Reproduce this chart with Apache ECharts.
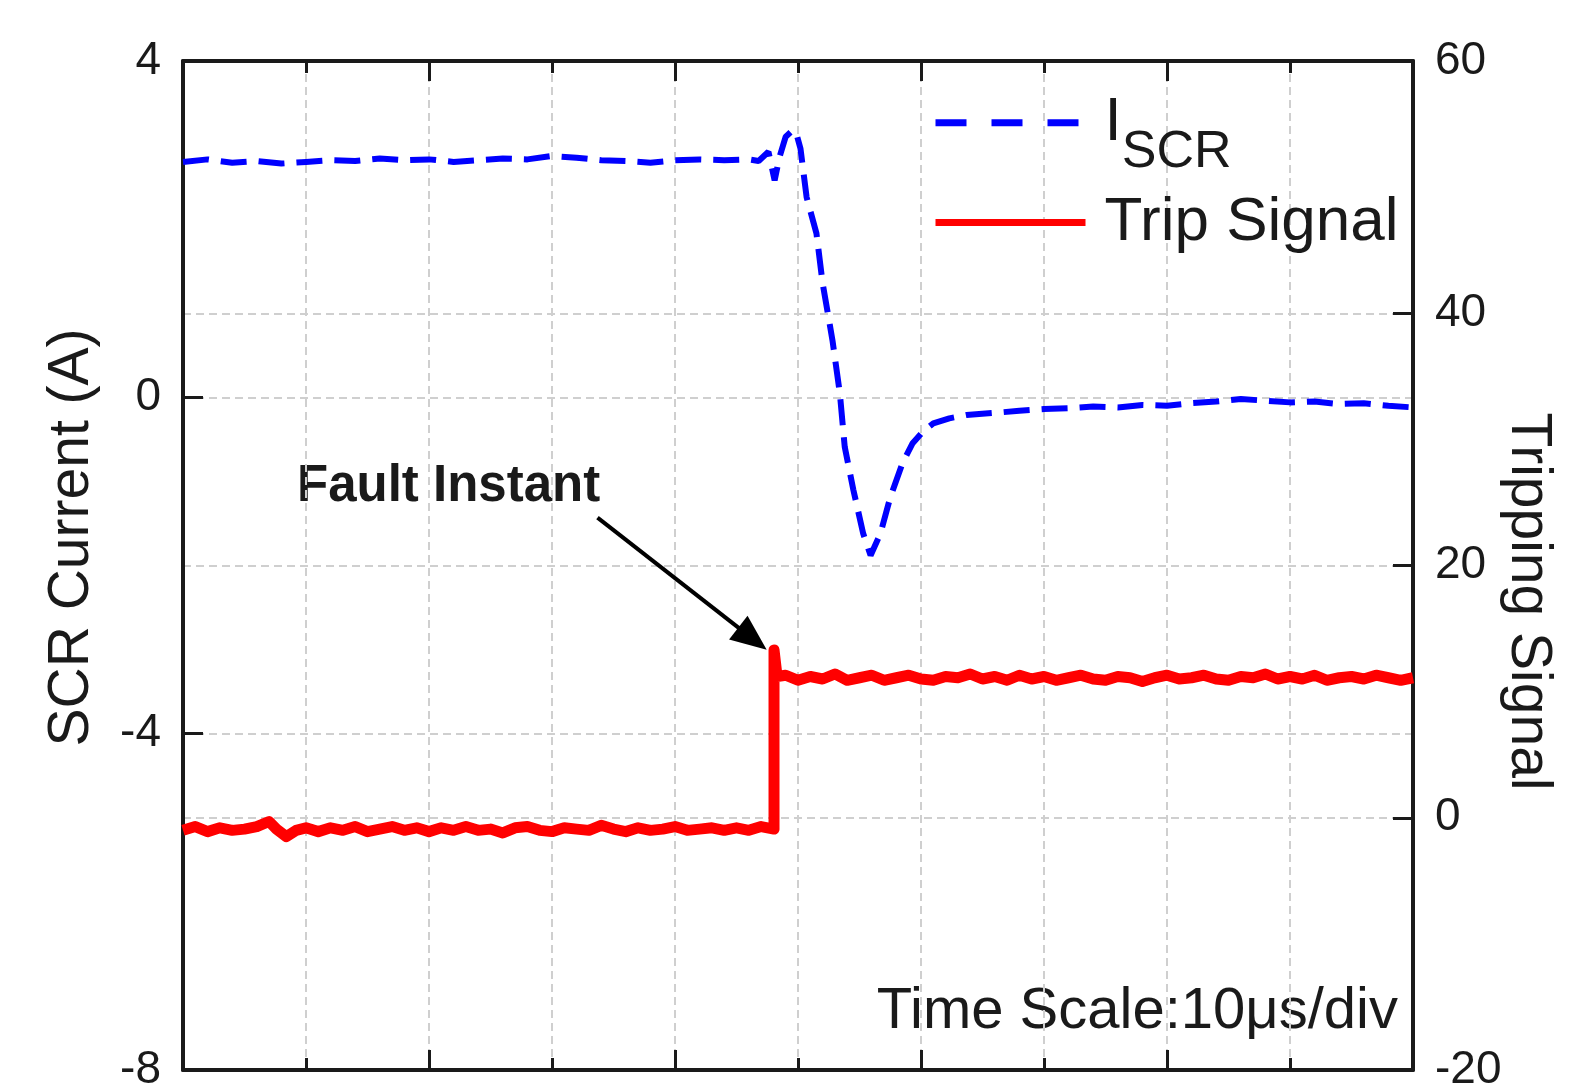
<!DOCTYPE html>
<html>
<head>
<meta charset="utf-8">
<title>SCR current / trip signal</title>
<script src="https://cdn.jsdelivr.net/npm/echarts@6/dist/echarts.min.js"></script>
<style>
  html, body { margin: 0; padding: 0; background: #fff; }
  #main { width: 1571px; height: 1086px; }
</style>
</head>
<body>
<div id="main"></div>
<script>
// time axis in us (10 us/div)
const timeRange = [0, 100, 20]          // min, max, major step (minor = 10us/div)
const currentRange = [-8, 4, 4]         // left axis, A
const tripRange = [-20, 60, 20]         // right axis

// I_SCR  [t (us), current (A)]
const iscrTrace = [
  [0, 2.80], [2, 2.83], [4, 2.79], [6, 2.81], [8, 2.78], [10, 2.80], [12, 2.82], [14, 2.81],
  [16, 2.84], [18, 2.82], [20, 2.83], [22, 2.80], [24, 2.82], [26, 2.84], [28, 2.83], [30, 2.87],
  [32, 2.85], [34, 2.82], [36, 2.81], [38, 2.79], [40, 2.82], [42, 2.83], [44, 2.82], [46, 2.83],
  [46.8, 2.81], [47.6, 2.92], [48.1, 2.58], [48.5, 2.86], [49.0, 3.10], [49.6, 3.18], [49.9, 3.12],
  [50.2, 2.96], [50.7, 2.38], [51.5, 1.95], [52.0, 1.36], [52.8, 0.68], [53.4, 0.05], [53.8, -0.59],
  [54.5, -1.10], [55.3, -1.62], [55.9, -1.88], [56.7, -1.62], [57.5, -1.19], [58.5, -0.78],
  [59.3, -0.55], [60.2, -0.40], [61.0, -0.31], [62.3, -0.25], [63.7, -0.21], [66.4, -0.18],
  [68, -0.16], [70, -0.14], [72, -0.13], [74, -0.11], [76, -0.12], [78, -0.09], [80, -0.10],
  [82, -0.07], [84, -0.05], [86, -0.02], [88, -0.04], [90, -0.06], [92, -0.05], [94, -0.08],
  [96, -0.07], [98, -0.10], [100, -0.12]
]

// trip signal  [t (us), level]
const tripTrace = [
  [0, -1.0], [1, -0.7], [2, -1.1], [3, -0.8], [4, -1.0], [5, -0.9], [6, -0.7], [7, -0.3],
  [7.6, -0.9], [8.4, -1.5], [9.2, -1.0], [10, -0.8], [11, -1.1], [12, -0.8], [13, -1.0], [14, -0.7],
  [15, -1.1], [16, -0.9], [17, -0.7], [18, -1.0], [19, -0.8], [20, -1.1], [21, -0.8], [22, -1.0],
  [23, -0.7], [24, -1.0], [25, -0.9], [26, -1.2], [27, -0.8], [28, -0.7], [29, -1.0], [30, -1.1],
  [31, -0.8], [32, -0.9], [33, -1.0], [34, -0.6], [35, -0.9], [36, -1.1], [37, -0.8], [38, -1.0],
  [39, -0.9], [40, -0.7], [41, -1.0], [42, -0.9], [43, -0.8], [44, -1.0], [45, -0.8], [46, -1.0],
  [47, -0.7], [48.05, -0.9],
  [48.05, 13.3], [48.3, 11.2], [49, 11.3], [50, 10.9], [51, 11.2], [52, 11.0], [53, 11.4], [54, 10.9],
  [55, 11.1], [56, 11.3], [57, 10.9], [58, 11.1], [59, 11.3], [60, 11.0], [61, 10.9], [62, 11.2],
  [63, 11.1], [64, 11.4], [65, 11.0], [66, 11.2], [67, 10.9], [68, 11.3], [69, 11.0], [70, 11.2],
  [71, 10.9], [72, 11.1], [73, 11.3], [74, 11.0], [75, 10.9], [76, 11.2], [77, 11.1], [78, 10.8],
  [79, 11.1], [80, 11.3], [81, 11.0], [82, 11.1], [83, 11.3], [84, 11.0], [85, 10.9], [86, 11.2],
  [87, 11.1], [88, 11.4], [89, 11.0], [90, 11.2], [91, 11.0], [92, 11.3], [93, 10.9], [94, 11.1],
  [95, 11.2], [96, 11.0], [97, 11.3], [98, 11.1], [99, 10.9], [100, 11.1]
]

// "Fault Instant" arrow, in (t, trip level) units
const faultArrow = [[33.7, 23.8], [46.3, 14.2]]

const font = "'Liberation Sans', Arial, sans-serif"
const ink = '#1a1a1a'
const gridLine = { color: '#cfcfcf', width: 2, type: [8, 5] }
const noMarker = { color: 'rgba(0,0,0,0)', borderWidth: 0, opacity: 0 }

function xAxisOf (position, grid) {
  return {
    type: 'value',
    position: position,
    min: timeRange[0],
    max: timeRange[1],
    interval: timeRange[2],
    axisLine: { show: true, onZero: false, lineStyle: { color: ink, width: 4 } },
    axisTick: { show: true, inside: true, length: 20, lineStyle: { color: ink, width: 3 } },
    minorTick: { show: true, splitNumber: 2, length: 12, lineStyle: { color: ink, width: 3 } },
    axisLabel: { show: false },
    splitLine: { show: grid, lineStyle: gridLine },
    minorSplitLine: { show: grid, lineStyle: gridLine }
  }
}

function yAxisOf (position, range, name, rotate, pad) {
  return {
    type: 'value',
    position: position,
    min: range[0],
    max: range[1],
    interval: range[2],
    name: name,
    nameLocation: 'middle',
    nameRotate: rotate,
    nameGap: position === 'left' ? 82 : 86,
    nameMoveOverlap: false,
    nameTextStyle: { color: ink, fontSize: 57, fontFamily: font, padding: pad },
    axisLine: { show: true, onZero: false, lineStyle: { color: ink, width: 4 } },
    axisTick: { show: true, inside: true, length: 20, lineStyle: { color: ink, width: 3 } },
    axisLabel: { color: ink, fontSize: 46, fontFamily: font, margin: 22 },
    splitLine: { show: true, lineStyle: gridLine }
  }
}

let chart = echarts.init(document.getElementById('main'), null, { renderer: 'canvas' })

let option = {
  backgroundColor: '#fff',
  animation: false,
  grid: {
    left: 183, top: 61, right: 158, bottom: 16,
    containLabel: false,
    outerBoundsMode: 'none'
  },
  xAxis: [xAxisOf('bottom', true), xAxisOf('top', false)],
  yAxis: [
    yAxisOf('left', currentRange, 'SCR Current (A)', 90, [0, 0, 0, 56]),
    yAxisOf('right', tripRange, 'Tripping Signal', -90, [0, 0, 0, 72])
  ],
  legend: {
    orient: 'vertical',
    left: 932,
    top: 78,
    padding: 0,
    itemGap: -1,
    itemWidth: 150,
    itemHeight: 112,
    selectedMode: false,
    data: [
      { name: 'ISCR', itemStyle: noMarker, lineStyle: { width: 7, type: [31, 25], cap: 'butt' } },
      { name: 'Trip Signal', itemStyle: noMarker, lineStyle: { width: 7, type: 'solid', cap: 'butt' } }
    ],
    formatter: function (name) {
      return name === 'ISCR' ? '{i|I}{sub|SCR}' : '{t|Trip Signal}'
    },
    textStyle: {
      color: ink,
      fontFamily: font,
      rich: {
        i: { fontSize: 62, lineHeight: 112, fontFamily: font, color: ink, padding: [0, 0, 0, 14], verticalAlign: 'middle' },
        sub: { fontSize: 52, lineHeight: 52, fontFamily: font, color: ink, verticalAlign: 'bottom' },
        t: { fontSize: 62, lineHeight: 62, fontFamily: font, color: ink, padding: [0, 0, 0, 14] }
      }
    }
  },
  graphic: [
    {
      type: 'text', x: 297, y: 487, silent: true,
      style: { text: 'Fault Instant', fontSize: 51, fontWeight: 'bold', fontFamily: font, fill: ink, align: 'left', verticalAlign: 'middle' }
    },
    {
      type: 'text', x: 1398, y: 1012, silent: true,
      style: { text: 'Time Scale:10\u03bcs/div', fontSize: 58, fontFamily: font, fill: ink, align: 'right', verticalAlign: 'middle' }
    }
  ],
  series: [
    {
      name: 'ISCR',
      type: 'line',
      xAxisIndex: 0,
      yAxisIndex: 0,
      showSymbol: false,
      symbol: 'none',
      data: iscrTrace,
      lineStyle: { color: '#0000ff', width: 6, type: [26, 12] },
      itemStyle: { color: '#0000ff' },
      z: 3
    },
    {
      name: 'Trip Signal',
      type: 'line',
      xAxisIndex: 0,
      yAxisIndex: 1,
      showSymbol: false,
      symbol: 'none',
      data: tripTrace,
      lineStyle: { color: '#ff0000', width: 11, join: 'round' },
      itemStyle: { color: '#ff0000' },
      z: 3,
      markLine: {
        silent: true,
        symbol: ['none', 'triangle'],
        symbolSize: [30, 36],
        label: { show: false },
        lineStyle: { color: '#000', width: 4, type: 'solid' },
        data: [[{ coord: faultArrow[0] }, { coord: faultArrow[1] }]]
      }
    }
  ]
}

chart.setOption(option)
</script>
</body>
</html>
